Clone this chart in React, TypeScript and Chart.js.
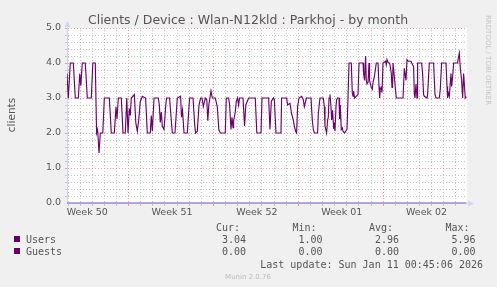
import React, { useEffect, useRef } from 'react';
import { Chart, registerables } from 'chart.js';

Chart.register(...registerables);

const W = 497;
const H = 287;

const chartTitle = 'Clients / Device : Wlan-N12kld : Parkhoj - by month';
const yAxisTitle = 'clients';
const sideNote = 'RRDTOOL / TOBI OETIKER';
const footerNote = 'Munin 2.0.76';
const lastUpdate = 'Last update: Sun Jan 11 00:45:06 2026';

// x axis: hours since start of the 33-day window
const spanHours = 792;
const weekStartHours = [122, 290, 458, 626];
const weekLabelHours = [40, 208, 376, 544, 712];
const weekLabels = ['Week 50', 'Week 51', 'Week 52', 'Week 01', 'Week 02'];
const yTickValues = [0, 1, 2, 3, 4, 5];
const yTickLabels = ['0.0', '1.0', '2.0', '3.0', '4.0', '5.0'];

const seriesNames = ['Users', 'Guests'];
const statHeaders = ['Cur:', 'Min:', 'Avg:', 'Max:'];
const usersStats = ['3.04', '1.00', '2.96', '5.96'];
const guestsStats = ['0.00', '0.00', '0.00', '0.00'];

const usersTime = [
  0, 2.6, 6.5, 12.5, 16.4, 22.4, 25.3, 27.3, 30.3, 36.2, 40.2, 48.1, 51.1, 56, 58.6, 60.6, 63.4, 65.9, 70.9, 73.9,
  83.8, 87.7, 93.7, 97, 99, 101.6, 107.5, 110.9, 115.4, 118.4, 120.8, 123.4, 125.3, 127.3, 133.3,
  136.2, 139.2, 142.2, 145.1, 149.1, 155.6, 159, 164.9, 166.9, 168.9, 172.3, 180.8, 182.8, 184.7, 186.7, 188.7,
  192.1, 195.6, 197.2, 203.1, 208.5, 213.8, 218.4, 224.9, 226.7, 228.7, 231.7, 238.2, 242.7, 249.5, 253, 254.6,
  258, 261.4, 264.5,
  267.3, 269.9, 273.8, 276.8, 278.8, 280.8, 285.1, 287.7, 293.6, 297.6, 300.6, 303.5, 313.4, 315.4, 320, 322,
  324.7, 326.7, 328.7, 329.9, 333.2, 335.2, 337.8, 339.8, 341.7, 348.5, 351.6, 354, 359.6, 372.8, 375.8, 384.1,
  386.1, 399.2,
  401.9, 404.5, 408.5, 410.5, 413.8, 423.7, 424.9, 434.8, 436.8, 441.5, 444.7, 448.1, 450.1, 452.6, 454.6, 456.6,
  459.4, 464.5, 467.9, 469.9, 472.4, 474.4, 483.1, 485.7, 487.7, 489.7, 496.2, 497.6, 500.9, 507.5, 509.5, 510.8,
  514, 516, 517.4, 518.8, 520.7, 522.7, 523.9, 525.9, 527.9, 529.3, 530.6, 532.6, 533.8, 535.8,
  538.6, 539.7, 541.1, 543.1, 545.1, 546.5, 549.6, 551.6, 554.4, 556.4, 558.4, 562.9, 564.9, 566.3, 567.5, 569.4,
  572.8, 576.2, 578.2, 586.1, 587.3, 589.2, 591.2, 592.6, 594, 596, 598, 599.1, 602.5, 604.5, 605.9, 608.5,
  612.4, 615.8, 617.8, 619, 620.3, 622.3, 623.7, 625.7, 630.8, 632.2, 633.6, 636.2, 638.7, 640.1, 642.1, 643.5,
  644.7, 645.5, 648.1, 652, 665.3, 667.9,
  671.2, 673.2, 675.8, 681.1, 684.3, 686.3, 687.7, 689, 691, 693, 694.2, 702.1, 704.1, 706.1, 707.5, 712.8,
  714, 717.4, 725.9, 728.6, 730.6, 737.2, 739.1, 741.7, 750.4, 752.4, 753.6, 755, 757, 760.3, 761.5, 763.5,
  765.5, 773.4, 774.8, 776.8, 778.7, 781.3, 783.3, 785.3, 788.6, 790.6,
];

const usersValue = [
  3.7, 3.0, 4.0, 4.0, 3.0, 3.0, 3.7, 3.35, 4.0, 4.0, 3.0, 3.0, 4.0, 4.0, 2.0, 2.1, 1.43, 2.0, 2.0, 3.0,
  3.0, 2.0, 2.0, 2.75, 2.4, 3.0, 3.0, 2.0, 2.0, 3.0, 2.0, 2.7, 2.5, 3.0, 3.1,
  2.3, 2.05, 2.4, 2.9, 3.05, 3.0, 2.0, 2.0, 2.5, 2.05, 3.0, 3.0, 2.8, 2.3, 2.6, 2.2,
  2.1, 2.8, 3.0, 3.0, 2.0, 2.0, 3.0, 3.05, 2.45, 2.65, 2.0, 2.0, 3.0, 3.0, 2.2, 2.0,
  2.05, 2.8, 3.0,
  3.0, 2.75, 3.0, 2.95, 2.35, 2.8, 3.2, 3.0, 3.0, 2.75, 2.1, 2.0, 2.0, 3.0, 3.0, 2.8,
  2.1, 2.45, 2.15, 2.35, 2.6, 2.9, 3.0, 2.8, 3.0, 3.0, 2.2, 2.8, 3.0, 3.0, 2.0, 2.0,
  3.0, 3.0,
  2.1, 2.9, 3.0, 2.95, 2.0, 2.0, 3.0, 3.0, 2.8, 2.85, 2.55, 2.37, 2.2, 2.05, 2.0, 2.75,
  3.0, 3.05, 2.95, 2.75, 2.9, 3.0, 3.0, 2.37, 2.1, 2.0, 2.0, 2.55, 3.0, 3.0, 2.75, 2.2,
  2.0, 2.37, 2.45, 3.0, 3.1, 2.75, 2.37, 2.65, 2.12, 2.3, 2.05, 2.75, 2.95, 3.0,
  3.0, 2.4, 2.8, 2.1, 2.15, 2.05, 2.0, 2.05, 2.1, 3.0, 4.0, 4.0, 3.15, 3.05, 3.2, 3.0,
  3.05, 3.1, 4.0, 4.0, 3.7, 3.5, 4.2, 3.5, 3.4, 3.45, 4.0, 3.5, 3.3, 3.25, 3.45, 3.6,
  4.0, 4.0, 3.33, 3.0, 3.25, 3.3, 3.15, 4.0, 4.05, 3.95, 4.1, 4.0, 4.0, 3.9, 3.7, 3.3,
  3.35, 4.0, 3.6, 3.0, 3.0, 3.85,
  3.5, 4.1, 4.05, 4.05, 3.95, 3.9, 3.1, 3.0, 3.4, 3.0, 4.0, 4.0, 3.7, 3.1, 3.05, 3.0,
  3.1, 4.0, 4.0, 3.1, 3.0, 3.0, 3.25, 4.0, 4.0, 3.33, 3.0, 3.15, 3.05, 3.7, 3.33, 3.6,
  4.0, 4.0, 4.14, 4.28, 3.85, 3.52, 3.0, 3.7, 3.0, 3.04,
];

const guestsTime = [0, 790.6];
const guestsValue = [0, 0];

const FONT = '"DejaVu Sans", sans-serif';
const MONO = '"DejaVu Sans Mono", monospace';
const TEXT = '#555555';
const AXIS = '#CFD6F8';
const MINOR = '#c4c4c4';
const MAJOR = '#eba0a0';
const USERS_COLOR = '#6c006c';
const GUESTS_COLOR = '#a48bd8';
const SWATCH = '#660066';
const CLEAR = 'rgba(0,0,0,0)';

const dayLineHours: number[] = [];
for (let h = weekStartHours[0] % 24; h < spanHours; h += 24) dayLineHours.push(h);

export default function App() {
  const ref = useRef<HTMLCanvasElement>(null);

  useEffect(() => {
    const canvas = ref.current;
    if (!canvas) return;

    const xTickValues = [...dayLineHours, ...weekLabelHours].sort((a, b) => a - b);

    const decor = {
      id: 'muninDecor',
      beforeDraw(chart: any) {
        const { ctx, chartArea } = chart;
        ctx.save();
        ctx.fillStyle = '#F0F0F0';
        ctx.fillRect(0, 0, W, H);
        ctx.fillStyle = '#FFFFFF';
        ctx.fillRect(chartArea.left, chartArea.top, chartArea.right - chartArea.left, chartArea.bottom - chartArea.top);
        ctx.restore();
      },
      beforeDatasetsDraw(chart: any) {
        const { ctx, chartArea, scales } = chart;
        const { left, right, top, bottom } = chartArea;
        const xs = scales.x;
        const ys = scales.y;
        ctx.save();
        const hDots = (py: number, color: string) => {
          ctx.fillStyle = color;
          for (let px = left + 1; px < right; px += 3) ctx.fillRect(px, py, 1, 1);
          ctx.fillRect(left - 2, py, 2, 1);
        };
        const vDots = (px: number, color: string) => {
          ctx.fillStyle = color;
          for (let py = bottom - 2; py >= top; py -= 3) ctx.fillRect(px, py, 1, 1);
          ctx.fillRect(px, bottom + 1, 1, 2);
        };
        // minor first
        for (let i = 1; i <= 25; i++) {
          if (i % 5 === 0) continue;
          hDots(Math.round(ys.getPixelForValue(i / 5)), MINOR);
        }
        dayLineHours.forEach((h) => {
          if (weekStartHours.includes(h)) return;
          vDots(Math.floor(xs.getPixelForValue(h)), MINOR);
        });
        // major
        yTickValues.forEach((v) => {
          if (v === 0) return;
          hDots(Math.round(ys.getPixelForValue(v)), MAJOR);
        });
        weekStartHours.forEach((h) => vDots(Math.floor(xs.getPixelForValue(h)), MAJOR));
        ctx.restore();
      },
      afterDraw(chart: any) {
        const { ctx, chartArea } = chart;
        const { left, right, top, bottom } = chartArea;
        ctx.save();
        // axis arrows
        ctx.fillStyle = AXIS;
        ctx.strokeStyle = AXIS;
        ctx.lineWidth = 1;
        ctx.beginPath();
        ctx.moveTo(left + 0.5, top);
        ctx.lineTo(left + 0.5, top - 3);
        ctx.moveTo(right, bottom + 0.5);
        ctx.lineTo(right + 3, bottom + 0.5);
        ctx.stroke();
        ctx.beginPath();
        ctx.moveTo(left + 0.5, top - 7);
        ctx.lineTo(left - 2.5, top - 1);
        ctx.lineTo(left + 3.5, top - 1);
        ctx.closePath();
        ctx.fill();
        ctx.beginPath();
        ctx.moveTo(right + 7, bottom + 0.5);
        ctx.lineTo(right + 1, bottom - 2.5);
        ctx.lineTo(right + 1, bottom + 3.5);
        ctx.closePath();
        ctx.fill();

        // title
        ctx.fillStyle = TEXT;
        ctx.font = `12.5px ${FONT}`;
        ctx.textAlign = 'center';
        ctx.textBaseline = 'alphabetic';
        ctx.fillText(chartTitle, 248, 24);

        // y axis title
        ctx.save();
        ctx.translate(15, 115);
        ctx.rotate(-Math.PI / 2);
        ctx.font = `10.5px ${FONT}`;
        ctx.textAlign = 'center';
        ctx.fillText(yAxisTitle, 0, 0);
        ctx.restore();

        // side note
        ctx.save();
        ctx.translate(485.5, 15);
        ctx.rotate(Math.PI / 2);
        ctx.font = `7px ${FONT}`;
        ctx.fillStyle = '#c4c4c4';
        ctx.textAlign = 'left';
        ctx.fillText(sideNote, 0, 0);
        ctx.restore();

        // legend
        ctx.font = `10px ${MONO}`;
        ctx.fillStyle = TEXT;
        ctx.textAlign = 'left';
        const headX = [216, 292.5, 369, 445.5];
        const valX = [222, 298.5, 375, 451.5];
        statHeaders.forEach((s, i) => ctx.fillText(s, headX[i], 231));
        const rows = [usersStats, guestsStats];
        const rowY = [243, 255];
        rows.forEach((row, r) => {
          ctx.fillStyle = SWATCH;
          ctx.fillRect(14, rowY[r] - 7, 6, 6);
          ctx.fillStyle = TEXT;
          ctx.fillText(seriesNames[r], 26, rowY[r]);
          row.forEach((v, i) => ctx.fillText(v, valX[i], rowY[r]));
        });
        ctx.textAlign = 'right';
        ctx.fillText(lastUpdate, 483, 267.5);

        ctx.font = `7px ${FONT}`;
        ctx.fillStyle = '#bcbcbc';
        ctx.textAlign = 'center';
        ctx.fillText(footerNote, 248, 278.5);
        ctx.restore();
      },
    };

    const chart = new Chart(canvas, {
      type: 'line',
      data: {
        datasets: [
          {
            label: seriesNames[0],
            data: usersTime.map((t, i) => ({ x: t, y: usersValue[i] })),
            borderColor: USERS_COLOR,
            borderWidth: 1.15,
            pointRadius: 0,
            tension: 0,
            fill: false,
          },
          {
            label: seriesNames[1],
            data: guestsTime.map((t, i) => ({ x: t, y: guestsValue[i] })),
            borderColor: GUESTS_COLOR,
            borderWidth: 1.3,
            pointRadius: 0,
            tension: 0,
            fill: false,
            clip: false as any,
          },
        ],
      },
      options: {
        animation: false,
        responsive: false,
        devicePixelRatio: 1,
        layout: { padding: { left: 0, top: 28, right: 30, bottom: 64 } },
        plugins: {
          legend: { display: false },
          title: { display: false },
          tooltip: { enabled: false },
        },
        scales: {
          x: {
            type: 'linear',
            min: 0,
            max: spanHours,
            afterBuildTicks: (s: any) => {
              s.ticks = xTickValues.map((v) => ({ value: v }));
            },
            afterFit: (s: any) => {
              s.height = 20;
            },
            grid: { color: CLEAR, drawTicks: false, lineWidth: 1 },
            border: { color: AXIS, width: 1 },
            ticks: {
              autoSkip: false,
              maxRotation: 0,
              minRotation: 0,
              padding: 4,
              color: TEXT,
              font: { family: FONT, size: 9.5 },
              callback: (v: any) => {
                const i = weekLabelHours.indexOf(Number(v));
                return i >= 0 ? weekLabels[i] : '';
              },
            },
          },
          y: {
            type: 'linear',
            min: 0,
            max: 5,
            afterBuildTicks: (s: any) => {
              s.ticks = yTickValues.map((v) => ({ value: v }));
            },
            afterFit: (s: any) => {
              s.width = 67;
            },
            grid: { color: CLEAR, drawTicks: false, lineWidth: 1 },
            border: { color: AXIS, width: 1 },
            ticks: {
              autoSkip: false,
              padding: 6,
              color: TEXT,
              font: { family: FONT, size: 9.5 },
              callback: (v: any) => {
                const i = yTickValues.indexOf(Number(v));
                return i >= 0 ? yTickLabels[i] : '';
              },
            },
          },
        },
      },
      plugins: [decor],
    } as any);

    return () => chart.destroy();
  }, []);

  return (
    <div style={{ position: 'absolute', left: 0, top: 0, width: W, height: H }}>
      <canvas ref={ref} width={W} height={H} style={{ display: 'block', width: W, height: H }} />
    </div>
  );
}
